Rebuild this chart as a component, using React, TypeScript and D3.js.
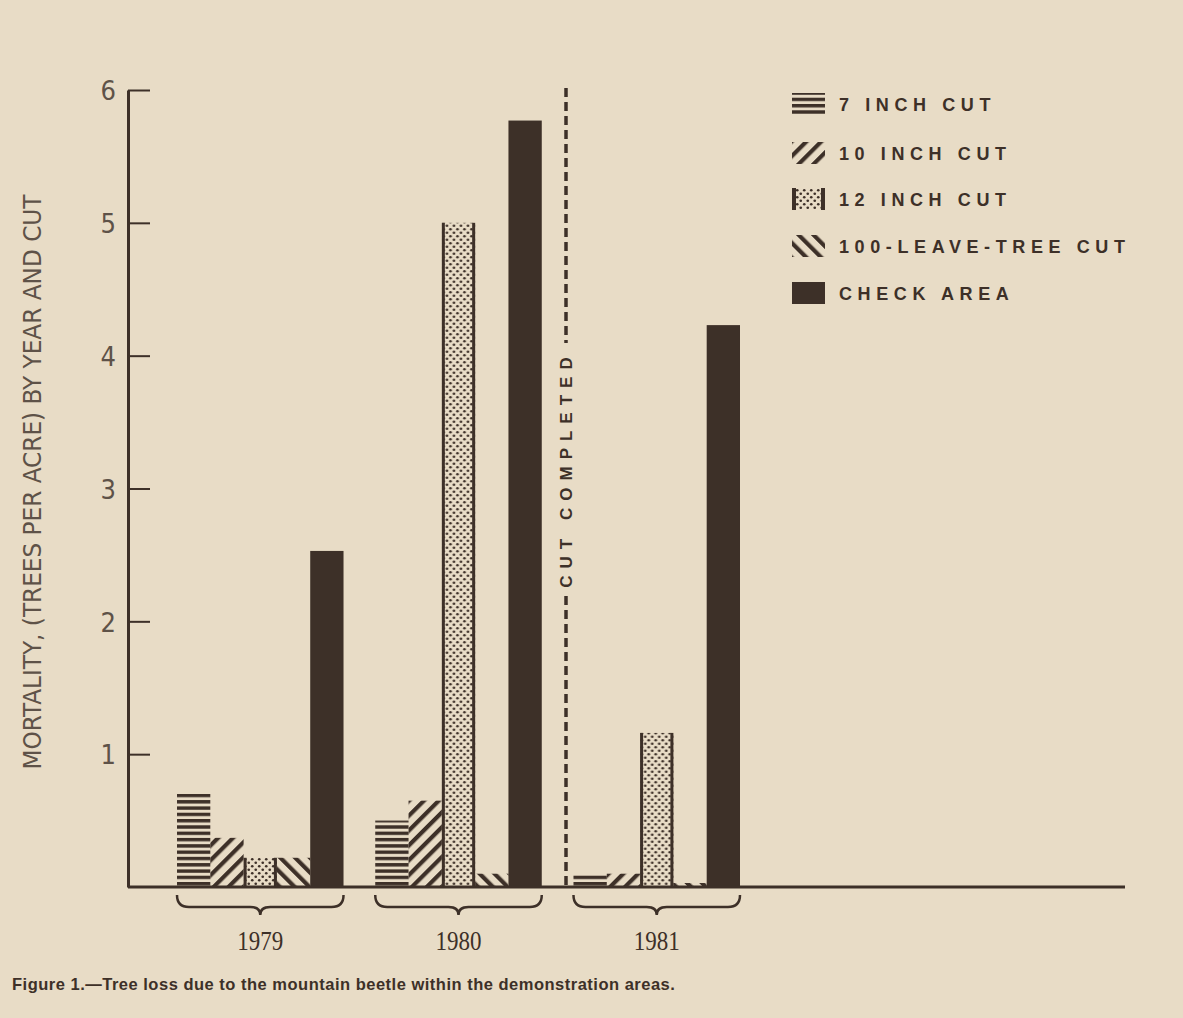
import * as d3 from 'd3';
import { useEffect, useRef } from 'react';

const years = ['1979', '1980', '1981'];
const series = ['7 INCH CUT', '10 INCH CUT', '12 INCH CUT', '100-LEAVE-TREE CUT', 'CHECK AREA'];
const sevenInch = [0.7, 0.5, 0.1];
const tenInch = [0.37, 0.65, 0.1];
const twelveInch = [0.22, 5.0, 1.16];
const leaveTree = [0.22, 0.1, 0.03];
const checkArea = [2.53, 5.77, 4.23];
const yTicks = [1, 2, 3, 4, 5, 6];

const values = [sevenInch, tenInch, twelveInch, leaveTree, checkArea];
const fills = ['url(#hstripe)', 'url(#fdiag)', 'url(#dots)', 'url(#bdiag)', '#3d3028'];

const INK = '#3d3028';
const PAPER = '#e8dcc6';
const GREY = '#5e5248';

const W = 1183,
    H = 1018;

export default function App() {
    const axisRef = useRef(null);

    const y = d3.scaleLinear().domain([0, 6]).range([887, 90]);
    const x0 = d3.scaleBand().domain(years).range([177, 740]).paddingInner(0.16);
    const x1 = d3.scaleBand().domain(series).range([0, x0.bandwidth()]);

    useEffect(() => {
        const g = d3.select(axisRef.current);
        g.selectAll('*').remove();
        g.call(
            d3.axisLeft(y).tickValues(yTicks).tickSizeInner(-22).tickSizeOuter(0).tickPadding(12).tickFormat(d3.format('d'))
        );
        g.select('.domain').attr('stroke', INK).attr('stroke-width', 3);
        g.selectAll('.tick line').attr('stroke', INK).attr('stroke-width', 2);
        g.selectAll('.tick text')
            .attr('fill', GREY)
            .attr('font-family', '"Liberation Sans Narrow", "DejaVu Sans Condensed", sans-serif')
            .attr('font-size', 27)
            .attr('dy', '0.36em');
    }, [y]);

    const brace = (a: number, b: number) => {
        const m = (a + b) / 2;
        const p = d3.path();
        p.moveTo(a, 895);
        p.quadraticCurveTo(a, 907, a + 12, 907);
        p.lineTo(m - 10, 907);
        p.quadraticCurveTo(m, 907, m, 915);
        p.quadraticCurveTo(m, 907, m + 10, 907);
        p.lineTo(b - 12, 907);
        p.quadraticCurveTo(b, 907, b, 895);
        return p.toString();
    };

    const legendY = [104, 153, 199, 246, 293];

    return (
        <svg width={W} height={H} style={{ position: 'absolute', left: 0, top: 0 }}>
            <defs>
                <pattern id="hstripe" patternUnits="userSpaceOnUse" width="10" height="6.3">
                    <rect x="0" y="0" width="10" height="3.4" fill={INK} />
                </pattern>
                <pattern id="fdiag" patternUnits="userSpaceOnUse" width="10.5" height="10" patternTransform="rotate(45)">
                    <rect x="0" y="0" width="4.2" height="10" fill={INK} />
                </pattern>
                <pattern id="bdiag" patternUnits="userSpaceOnUse" width="10.5" height="10" patternTransform="rotate(-45)">
                    <rect x="0" y="0" width="4.2" height="10" fill={INK} />
                </pattern>
                <pattern id="dots" patternUnits="userSpaceOnUse" width="7" height="7">
                    <circle cx="1.75" cy="1.75" r="1.35" fill={INK} />
                    <circle cx="5.25" cy="5.25" r="1.35" fill={INK} />
                </pattern>
            </defs>
            <rect width={W} height={H} fill={PAPER} />

            {/* y axis title */}
            <text
                transform="translate(41,482) rotate(-90)"
                textAnchor="middle"
                fill={GREY}
                fontFamily='"Liberation Sans Narrow", "DejaVu Sans Condensed", sans-serif'
                fontSize={25}
                textLength={575}
                lengthAdjust="spacingAndGlyphs"
            >
                MORTALITY, (TREES PER ACRE) BY YEAR AND CUT
            </text>

            {/* bars */}
            {years.map((yr, i) => (
                <g key={yr} transform={`translate(${x0(yr)},0)`}>
                    {series.map((s, j) => {
                        const bx = x1(s)!;
                        const top = y(values[j][i]);
                        const h = y(0) - top;
                        return (
                            <g key={s}>
                                <rect x={bx} y={top} width={x1.bandwidth()} height={h} fill={fills[j]} />
                                {j === 2 && (
                                    <>
                                        <rect x={bx} y={top} width={3} height={h} fill={INK} />
                                        <rect x={bx + x1.bandwidth() - 3} y={top} width={3} height={h} fill={INK} />
                                    </>
                                )}
                            </g>
                        );
                    })}
                </g>
            ))}

            {/* baseline */}
            <line x1={128} x2={1125} y1={y(0)} y2={y(0)} stroke={INK} strokeWidth={3} />
            <g ref={axisRef} transform="translate(128,0)" />

            {/* braces and year labels */}
            {years.map((yr) => {
                const a = x0(yr)!;
                const b = a + x0.bandwidth();
                return (
                    <g key={yr}>
                        <path d={brace(a, b)} fill="none" stroke={INK} strokeWidth={2.5} />
                        <text
                            x={(a + b) / 2}
                            y={950}
                            textAnchor="middle"
                            fill={INK}
                            fontFamily='"Liberation Serif", "DejaVu Serif", serif'
                            fontSize={27}
                            textLength={46}
                            lengthAdjust="spacingAndGlyphs"
                        >
                            {yr}
                        </text>
                    </g>
                );
            })}

            {/* cut completed divider */}
            <line x1={566} x2={566} y1={88} y2={343} stroke={INK} strokeWidth={3.5} strokeDasharray="9 5" />
            <line x1={566} x2={566} y1={596} y2={887} stroke={INK} strokeWidth={3.5} strokeDasharray="9 5" />
            <text
                transform="translate(572,469) rotate(-90)"
                textAnchor="middle"
                fill={INK}
                fontFamily='"Liberation Sans", Arial, sans-serif'
                fontWeight="bold"
                fontSize={17}
                letterSpacing={7}
            >
                CUT COMPLETED
            </text>

            {/* legend */}
            {series.map((s, j) => (
                <g key={s} transform={`translate(792,${legendY[j]})`}>
                    <rect x={0} y={-11} width={33} height={22} fill={fills[j]} />
                    {j === 2 && (
                        <>
                            <rect x={0} y={-11} width={4} height={22} fill={INK} />
                            <rect x={29} y={-11} width={4} height={22} fill={INK} />
                        </>
                    )}
                    <text
                        x={47}
                        y={7}
                        fill={INK}
                        fontFamily='"Liberation Sans", Arial, sans-serif'
                        fontWeight="bold"
                        fontSize={18}
                        letterSpacing={5.6}
                    >
                        {s}
                    </text>
                </g>
            ))}

            {/* caption */}
            <text
                x={12}
                y={990}
                fill={INK}
                fontFamily='"Liberation Sans", Arial, sans-serif'
                fontWeight="bold"
                fontSize={16.5}
                letterSpacing={0.5}
            >
                Figure 1.—Tree loss due to the mountain beetle within the demonstration areas.
            </text>
        </svg>
    );
}
